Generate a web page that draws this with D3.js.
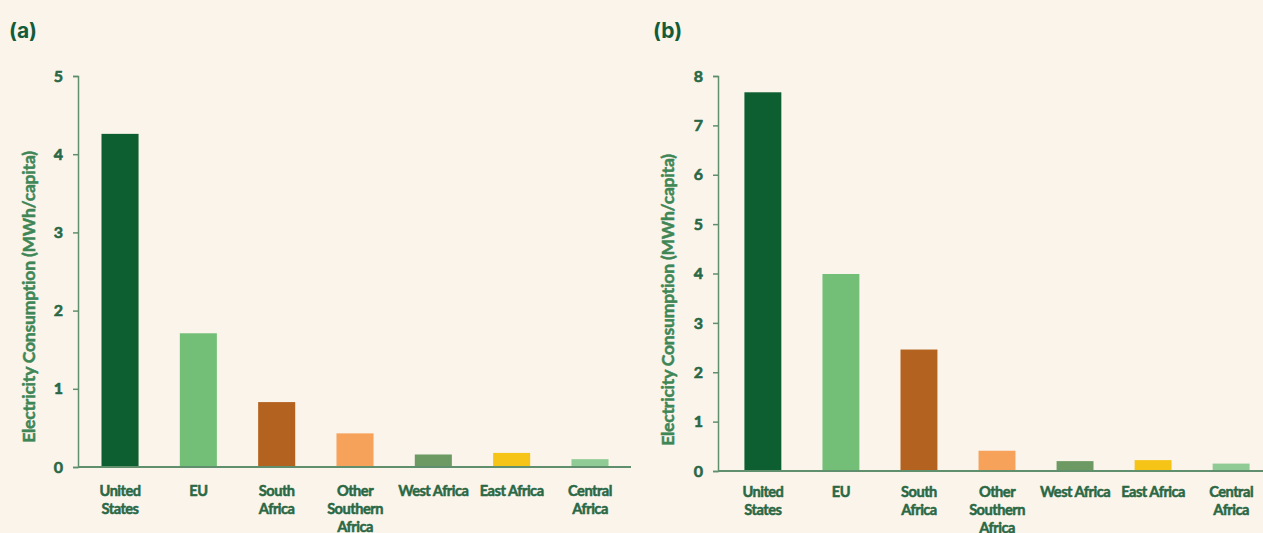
<!DOCTYPE html>
<html>
<head>
<meta charset="utf-8">
<script src="https://cdn.jsdelivr.net/npm/d3@7"></script>
<style>
  html, body { margin: 0; padding: 0; background: #faf4eb; }
  svg { display: block; }
</style>
</head>
<body>
<svg id="chart" width="1263" height="533"></svg>
<script>
// Per-capita electricity consumption by region
const categories = ["United States", "EU", "South Africa", "Other Southern Africa", "West Africa", "East Africa", "Central Africa"];
const categoryLines = [["United", "States"], ["EU"], ["South", "Africa"], ["Other", "Southern", "Africa"], ["West Africa"], ["East Africa"], ["Central", "Africa"]];
const consumptionA = [4.26, 1.71, 0.83, 0.43, 0.16, 0.18, 0.10];
const consumptionB = [7.67, 3.99, 2.46, 0.41, 0.20, 0.22, 0.15];
const ticksA = [0, 1, 2, 3, 4, 5];
const ticksB = [0, 1, 2, 3, 4, 5, 6, 7, 8];
const barColors = ["#0d5e31", "#74bf78", "#b4621f", "#f6a25a", "#6c9a62", "#f5c417", "#8fcb94"];
const yTitle = "Electricity Consumption (MWh/capita)";

const panels = [
  { tag: "(a)", values: consumptionA, ticks: ticksA, max: 5,
    axisX: 78, axisEnd: 631, yBase: 467, yTop: 76, xRange: [78, 632],
    tagX: 9, titleX: 29, titleY: 297, labelY: 496 },
  { tag: "(b)", values: consumptionB, ticks: ticksB, max: 8,
    axisX: 718, axisEnd: 1263, yBase: 471, yTop: 76, xRange: [721, 1273],
    tagX: 653, titleX: 668, titleY: 300, labelY: 497 }
];

const svg = d3.select("#chart");
const textGreen = "#2a6845";
const axisGreen = "#5f8f6d";
const labelFont = "Lato, 'Open Sans', sans-serif";

// heavier strokes on text to give the semibold look
function heavy(sel, color, w) {
  sel.attr("fill", color).attr("stroke", color).attr("stroke-width", w)
     .attr("paint-order", "stroke").attr("stroke-linejoin", "round");
}

panels.forEach(p => {
  const g = svg.append("g");

  const x = d3.scaleBand()
    .domain(categories)
    .range(p.xRange)
    .paddingInner(0.527)
    .paddingOuter(0.3);

  const y = d3.scaleLinear()
    .domain([0, p.max])
    .range([p.yBase, p.yTop]);

  // panel tag
  g.append("text")
    .attr("x", p.tagX)
    .attr("y", 38)
    .attr("font-family", "Inter, 'Open Sans', sans-serif")
    .attr("font-weight", 700)
    .attr("font-size", 21)
    .attr("fill", "#145c39")
    .text(p.tag);

  // bars
  g.selectAll("rect.bar")
    .data(p.values)
    .join("rect")
    .attr("class", "bar")
    .attr("x", (d, i) => x(categories[i]))
    .attr("width", x.bandwidth())
    .attr("y", d => y(d))
    .attr("height", d => y(0) - y(d))
    .attr("fill", (d, i) => barColors[i]);

  // left axis
  const yAxis = g.append("g")
    .attr("transform", `translate(${p.axisX},0)`)
    .call(d3.axisLeft(y).tickValues(p.ticks).tickFormat(d3.format("d"))
      .tickSize(5).tickSizeOuter(5).tickPadding(10));
  yAxis.select(".domain").attr("stroke", axisGreen).attr("stroke-width", 1.5);
  yAxis.selectAll(".tick line").attr("stroke", axisGreen).attr("stroke-width", 1.5);
  yAxis.selectAll(".tick text")
    .attr("font-family", labelFont)
    .attr("font-weight", 700)
    .attr("font-size", 16)
    .call(heavy, textGreen, 0.6);

  // baseline
  g.append("line")
    .attr("x1", p.axisX).attr("x2", p.axisEnd)
    .attr("y1", y(0)).attr("y2", y(0))
    .attr("stroke", axisGreen)
    .attr("stroke-width", 2);

  // category labels
  const lab = g.selectAll("text.cat")
    .data(categoryLines)
    .join("text")
    .attr("class", "cat")
    .attr("text-anchor", "middle")
    .attr("font-family", labelFont)
    .attr("font-weight", 700)
    .attr("font-size", 14.6)
    .attr("letter-spacing", -0.5)
    .call(heavy, textGreen, 0.5)
    .attr("transform", (d, i) => `translate(${x(categories[i]) + x.bandwidth() / 2},${p.labelY})`);
  lab.selectAll("tspan")
    .data(d => d)
    .join("tspan")
    .attr("x", 0)
    .attr("dy", (d, i) => i === 0 ? 0 : 17.8)
    .text(d => d);

  // y title
  g.append("text")
    .attr("transform", `translate(${p.titleX},${p.titleY}) rotate(-90)`)
    .attr("text-anchor", "middle")
    .attr("dy", "0.35em")
    .attr("font-family", labelFont)
    .attr("font-weight", 700)
    .attr("font-size", 17.5)
    .attr("letter-spacing", -0.2)
    .call(heavy, "#3f8656", 0.5)
    .text(yTitle);
});
</script>
</body>
</html>
